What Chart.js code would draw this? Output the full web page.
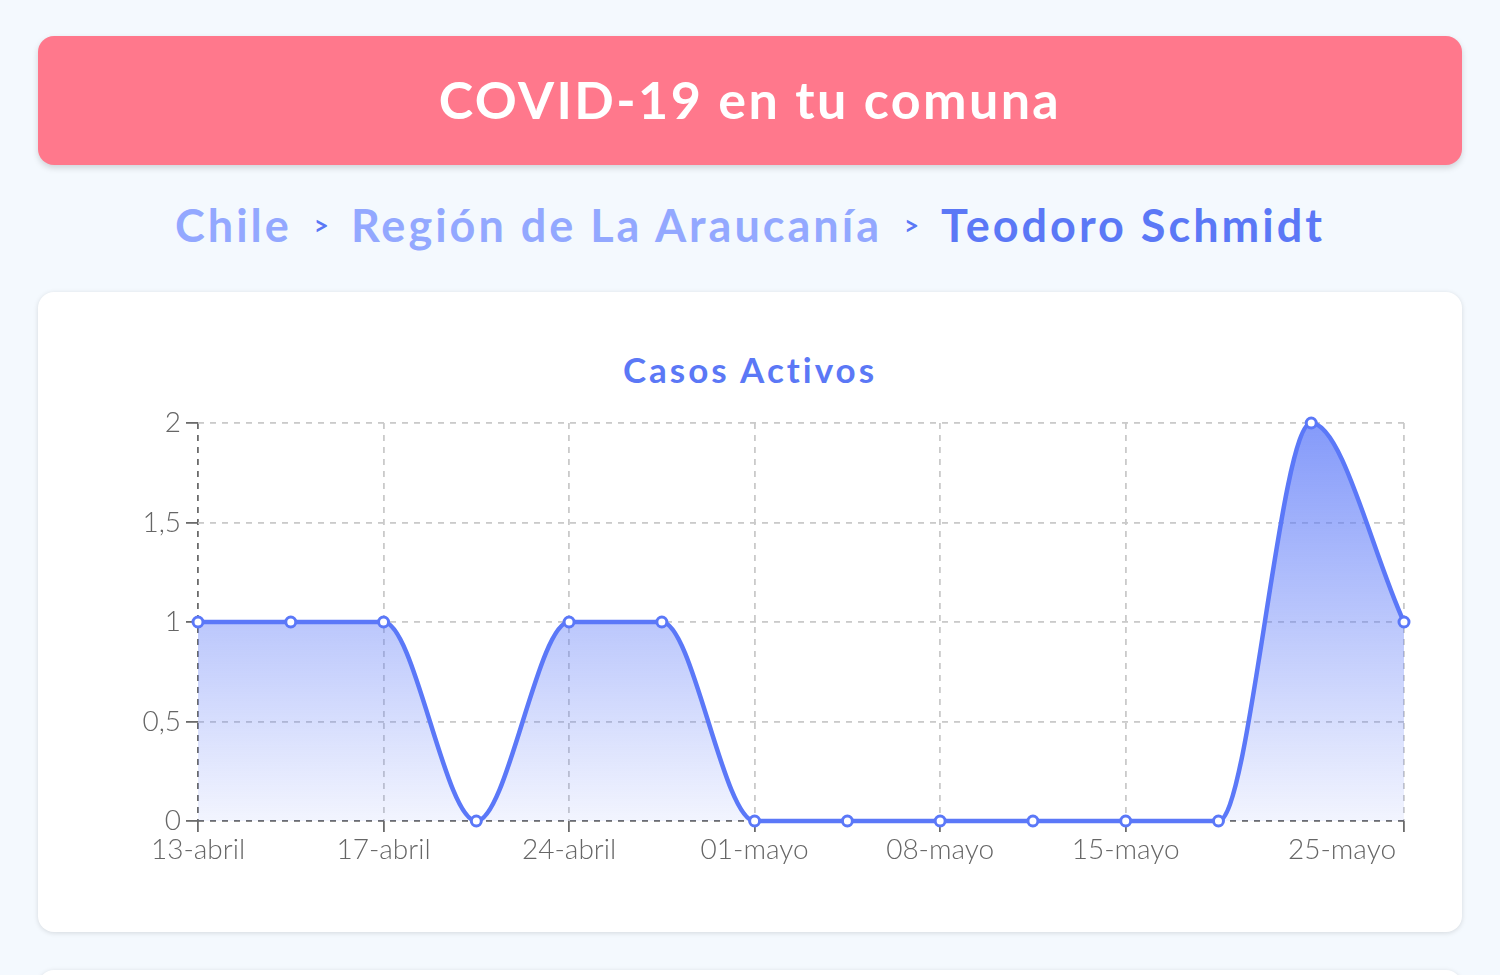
<!DOCTYPE html>
<html><head><meta charset="utf-8">
<script src="https://cdn.jsdelivr.net/npm/chart.js@4.4.0/dist/chart.umd.min.js"></script>
<style>
html,body{margin:0;padding:0;background:#f4f9fe;width:1500px;height:975px;overflow:hidden;font-family:Lato,'Open Sans',sans-serif;}
.header{position:absolute;left:38px;top:36px;width:1424px;height:129px;background:#ff788c;border-radius:16px;box-shadow:0 3px 6px rgba(0,0,0,0.15);display:flex;align-items:center;justify-content:center;color:#fff;font-weight:700;font-size:52px;letter-spacing:2.4px;padding-bottom:4px;box-sizing:border-box;}
.crumbs{position:absolute;left:0;top:190px;width:1500px;height:70px;display:flex;align-items:center;justify-content:center;font-weight:700;font-size:45px;color:#93a8ff;letter-spacing:3px;}
.sep{font-size:26px;color:#5b78f6;margin:0 22px;letter-spacing:0;}
.cur{color:#5b78f6;}
.card{position:absolute;left:38px;top:292px;width:1424px;height:640px;background:#fff;border-radius:16px;box-shadow:0 1px 5px rgba(0,0,0,0.13);}
.card2{top:970px;height:200px;}
.ctitle{position:absolute;left:0;top:52px;width:1424px;text-align:center;font-weight:700;font-size:35px;color:#5b78f6;letter-spacing:3px;line-height:50px;}
canvas{position:absolute;left:0;top:0;}
</style></head>
<body>
<div class="header">COVID-19 en tu comuna</div>
<div class="crumbs"><span>Chile</span><span class="sep">&gt;</span><span>Región de La Araucanía</span><span class="sep">&gt;</span><span class="cur">Teodoro Schmidt</span></div>
<div class="card"><div class="ctitle">Casos Activos</div><canvas id="c" width="1424" height="640" style="width:1424px;height:640px"></canvas></div>
<div class="card card2"></div>
<script>
const categories = ['13-abril','15-abril','17-abril','20-abril','24-abril','27-abril','01-mayo','04-mayo','08-mayo','11-mayo','15-mayo','18-mayo','22-mayo','25-mayo'];
const activeCases = [1,1,1,0,1,1,0,0,0,0,0,0,2,1];
const shownTickIdx = [0,2,4,6,8,10,13];
const yMin = 0, yMax = 2, yStep = 0.5;

const LINE = '#5b78f8';
const AXIS = '#6b6b6b';
const GRID = '#cacaca';
const FONT = "Lato, 'Open Sans', sans-serif";
const lastIdx = categories.length - 1;

const lastLabelPlugin = {
  id: 'lastLabel',
  afterDraw(chart) {
    const xs = chart.scales.x;
    const items = xs.getLabelItems();
    if (!items || !items.length) return;
    const it = items[0];
    const ctx = chart.ctx;
    ctx.save();
    ctx.font = it.font.string;
    ctx.fillStyle = '#666666';
    ctx.textAlign = 'right';
    ctx.textBaseline = it.options.textBaseline;
    ctx.fillText(categories[lastIdx], xs.getPixelForTick(lastIdx) - 8, it.options.translation[1] + it.textOffset);
    ctx.restore();
  }
};

new Chart(document.getElementById('c'), {
  type: 'line',
  data: {
    labels: categories,
    datasets: [{
      label: 'Casos Activos',
      data: activeCases,
      borderColor: LINE,
      borderWidth: 4.5,
      cubicInterpolationMode: 'monotone',
      fill: 'origin',
      clip: false,
      backgroundColor(ctx) {
        const ca = ctx.chart.chartArea;
        if (!ca) return 'rgba(91,120,248,0.3)';
        const g = ctx.chart.ctx.createLinearGradient(0, ca.top, 0, ca.bottom);
        g.addColorStop(0, 'rgba(91,120,248,0.75)');
        g.addColorStop(1, 'rgba(91,120,248,0.08)');
        return g;
      },
      pointRadius: 5,
      pointBorderWidth: 3,
      pointBackgroundColor: '#ffffff',
      pointBorderColor: LINE,
      pointHoverRadius: 5
    }]
  },
  options: {
    responsive: false,
    animation: false,
    layout: { padding: { left: 100, right: 58, top: 131, bottom: 61 } },
    plugins: {
      legend: { display: false },
      tooltip: { enabled: false },
      title: { display: false }
    },
    scales: {
      x: {
        offset: false,
        border: { display: false, dash: [6, 6] },
        grid: {
          drawOnChartArea: true,
          tickLength: 11,
          color(c) {
            if (!shownTickIdx.includes(c.index)) return 'rgba(0,0,0,0)';
            return c.index === 0 ? AXIS : GRID;
          },
          tickColor(c) { return shownTickIdx.includes(c.index) ? AXIS : 'rgba(0,0,0,0)'; },
          lineWidth: 1.8
        },
        ticks: {
          autoSkip: false,
          maxRotation: 0,
          padding: 1,
          color: '#666666',
          font: { family: FONT, size: 28, weight: '300' },
          callback(v, i) { return (shownTickIdx.includes(i) && i !== lastIdx) ? categories[i] : ''; }
        },
        afterFit(s) { s.height = 50; }
      },
      y: {
        min: yMin, max: yMax,
        border: { display: false, dash: [6, 6] },
        grid: {
          tickLength: 12,
          color(c) { return c.index === 0 ? AXIS : GRID; },
          tickColor: AXIS,
          lineWidth: 1.8
        },
        ticks: {
          stepSize: yStep,
          padding: 5,
          color: '#666666',
          font: { family: FONT, size: 28, weight: '300' },
          callback(v) { return String(v).replace('.', ','); }
        },
        afterFit(s) { s.width = 60; }
      }
    }
  },
  plugins: [lastLabelPlugin]
});
</script>
</body></html>
